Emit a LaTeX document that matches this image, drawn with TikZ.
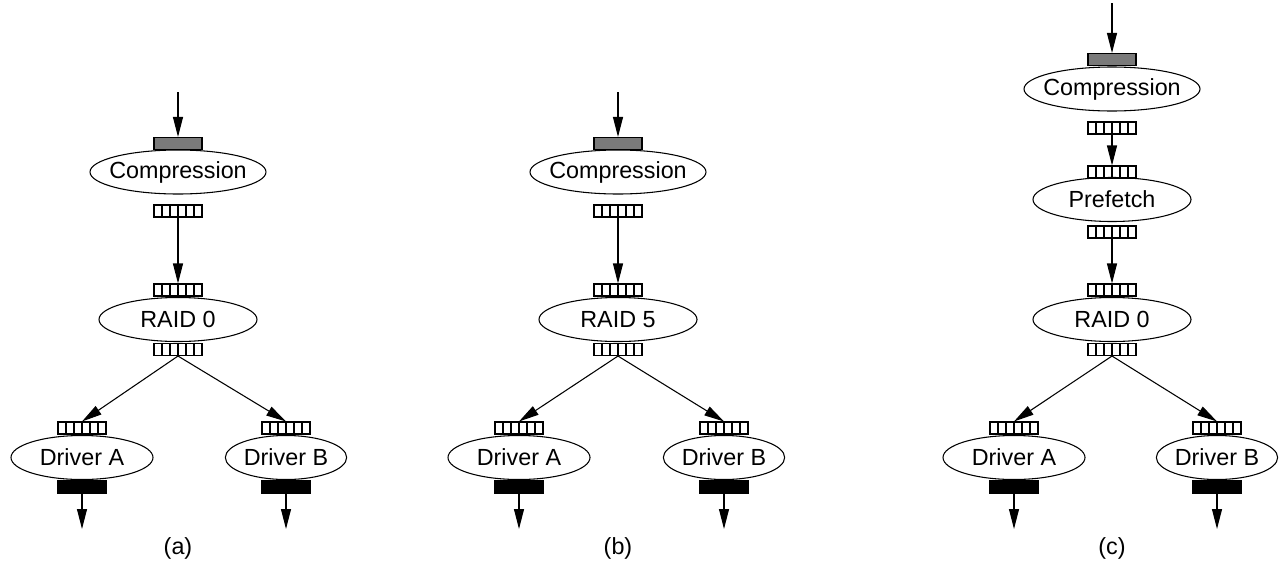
\documentclass[tikz,border=0pt]{standalone}
\usepackage{fontspec}
\setmainfont{Liberation Sans}
\usetikzlibrary{shapes.geometric,arrows.meta}
\tikzset{
  lw/.style={line width=0.8pt},
  port/.style={draw, lw, rectangle, minimum width=36pt, minimum height=9pt, inner sep=0pt},
  inport/.style={port, fill=white,
    path picture={\foreach \k in {1,...,5}{
      \draw[line width=1pt] ([xshift=\k*6pt]path picture bounding box.south west) --
                ([xshift=\k*6pt]path picture bounding box.north west);}}},
  srcport/.style={port, fill=black!52},
  sinkport/.style={port, fill=black},
  stage/.style={draw, lw, ellipse, inner sep=0pt, minimum height=33pt,
    font=\fontsize{17.5pt}{20pt}\selectfont},
  caption/.style={font=\fontsize{17.5pt}{20pt}\selectfont},
  flow/.style={lw, -{Triangle[length=15pt,width=7.5pt]}},
}
\begin{document}
\begin{tikzpicture}[x=0.75pt,y=-0.75pt]
\useasboundingbox (0,0) rectangle (1279,561);

% Panels (a) and (b): compression on top of a RAID layer with two drivers
\foreach \cx/\ax/\bx/\lvl/\tag in {178/82/286/0/a,618/519/724/5/b}{
  \coordinate (in-\tag) at (\cx,92);
  \node[srcport] (src-\tag) at (\cx,143.5) {};
  \node[stage, minimum width=132pt] (comp-\tag) at (\cx,172) {\makebox[0pt]{Compression}};
  \node[inport] (cout-\tag) at (\cx,211) {};
  \node[inport] (rin-\tag) at (\cx,290) {};
  \node[stage, minimum width=118.5pt] (raid-\tag) at (\cx,319.5) {\makebox[0pt]{RAID \lvl}};
  \node[inport] (rout-\tag) at (\cx,349.5) {};
  % driver A
  \node[inport] (ain-\tag) at (\ax,428) {};
  \node[stage, minimum width=106.5pt] (drva-\tag) at (\ax,457.5) {\makebox[0pt]{Driver A}};
  \node[sinkport] (aout-\tag) at (\ax,487) {};
  \coordinate (aend-\tag) at (\ax,529);
  % driver B
  \node[inport] (bin-\tag) at (\bx,428) {};
  \node[stage, minimum width=91pt] (drvb-\tag) at (\bx,457.5) {\makebox[0pt]{Driver B}};
  \node[sinkport] (bout-\tag) at (\bx,487) {};
  \coordinate (bend-\tag) at (\bx,529);
  \node[caption] (lab-\tag) at (\cx,548) {(\tag)};
  % connectors
  \draw[flow] (in-\tag) -- (src-\tag.north);
  \draw[flow] (cout-\tag.south) -- (rin-\tag.north);
  \draw[flow] (rout-\tag.south) -- (ain-\tag.north);
  \draw[flow] (rout-\tag.south) -- (bin-\tag.north);
  \draw[flow] (aout-\tag.south) -- (aend-\tag);
  \draw[flow] (bout-\tag.south) -- (bend-\tag);
}

% Panel (c): compression, prefetch, RAID 0 and two drivers
\coordinate (in-c) at (1112,3);
\node[srcport] (src-c) at (1112,59.5) {};
\node[stage, minimum width=132pt] (comp-c) at (1112,89) {\makebox[0pt]{Compression}};
\node[inport] (cout-c) at (1112,128) {};
\node[inport] (pin-c) at (1112,172) {};
\node[stage, minimum width=118.5pt] (pref-c) at (1112,199.5) {\makebox[0pt]{Prefetch}};
\node[inport] (pout-c) at (1112,232) {};
\node[inport] (rin-c) at (1112,290) {};
\node[stage, minimum width=118.5pt] (raid-c) at (1112,319.5) {\makebox[0pt]{RAID 0}};
\node[inport] (rout-c) at (1112,349.5) {};
\node[inport] (ain-c) at (1014,428) {};
\node[stage, minimum width=106.5pt] (drva-c) at (1014,457.5) {\makebox[0pt]{Driver A}};
\node[sinkport] (aout-c) at (1014,487) {};
\coordinate (aend-c) at (1014,529);
\node[inport] (bin-c) at (1217,428) {};
\node[stage, minimum width=91pt] (drvb-c) at (1217,457.5) {\makebox[0pt]{Driver B}};
\node[sinkport] (bout-c) at (1217,487) {};
\coordinate (bend-c) at (1217,529);
\node[caption] (lab-c) at (1112,548) {(c)};

\draw[flow] (in-c) -- (src-c.north);
\draw[flow] (cout-c.south) -- (pin-c.north);
\draw[flow] (pout-c.south) -- (rin-c.north);
\draw[flow] (rout-c.south) -- (ain-c.north);
\draw[flow] (rout-c.south) -- (bin-c.north);
\draw[flow] (aout-c.south) -- (aend-c);
\draw[flow] (bout-c.south) -- (bend-c);
\end{tikzpicture}
\end{document}
